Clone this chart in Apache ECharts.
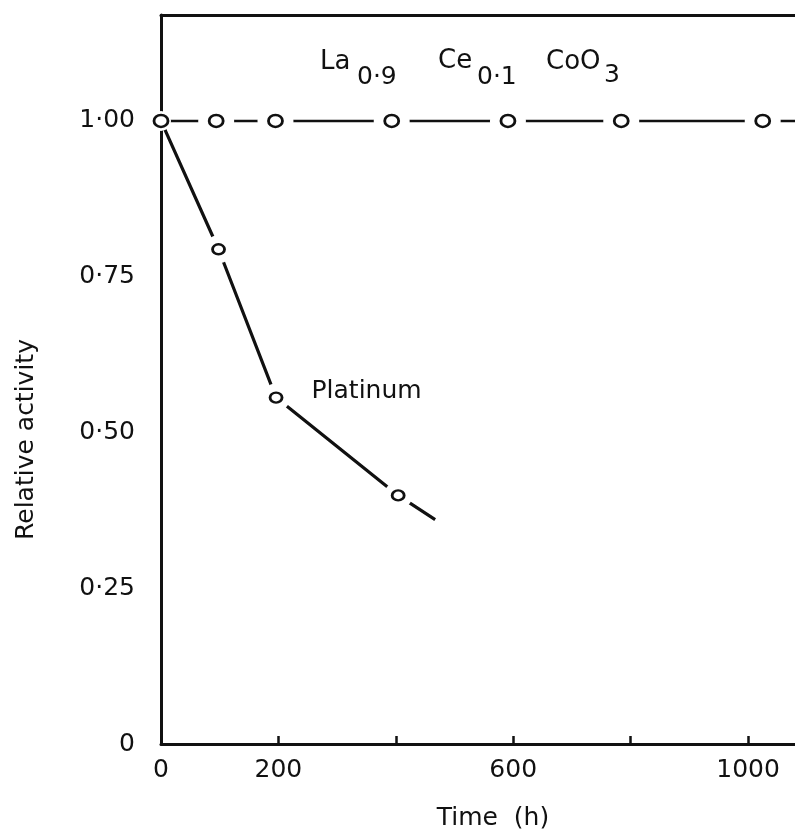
<!DOCTYPE html>
<html>
<head>
<meta charset="utf-8">
<script src="https://cdn.jsdelivr.net/npm/echarts@6/dist/echarts.min.js"></script>
<style>
  html, body { margin: 0; padding: 0; background: #ffffff; }
  #chart { width: 795px; height: 836px; }
</style>
</head>
<body>
<div id="chart"></div>
<script>
// Perovskite catalyst: sampled relative activity over time
const laTimes = [0, 94, 195, 393, 591, 784, 1025];
const laActivity = [1.0, 1.0, 1.0, 1.0, 1.0, 1.0, 1.0];
// the drawn line runs on past the last sample
const laLineEndTime = 1080;
const laLineEndActivity = 1.0;

// Platinum catalyst: sampled points, then where the drawn decay curve ends
const ptTimes = [0, 98, 196, 404];
const ptActivity = [1.0, 0.794, 0.556, 0.399];
const ptCurveEndTime = 467;
const ptCurveEndActivity = 0.36;

// Axis ticks and labels
const xTickValues = [0, 200, 400, 600, 800, 1000];
const xLabelValues = [0, 200, 600, 1000];
const yLabelValues = [0, 0.25, 0.5, 0.75, 1.0];
const yLabelText = ['0', '0·25', '0·50', '0·75', '1·00'];

const FONT = 'DejaVu Sans';
const INK = '#111111';

const laPoints = laTimes.map((t, i) => [t, laActivity[i]]);
const laLine = laPoints.concat([[laLineEndTime, laLineEndActivity]]);
const ptPoints = ptTimes.map((t, i) => [t, ptActivity[i]]);
const ptCurve = ptPoints.concat([[ptCurveEndTime, ptCurveEndActivity]]);

function yLabel(v) {
  for (let i = 0; i < yLabelValues.length; i++) {
    if (Math.abs(yLabelValues[i] - v) < 1e-6) return yLabelText[i];
  }
  return '';
}

const chart = echarts.init(document.getElementById('chart'), null, { renderer: 'canvas' });

chart.setOption({
  backgroundColor: '#ffffff',
  animation: false,
  grid: { left: 161, right: 0, top: 15, bottom: 83, containLabel: false },
  xAxis: [
    {
      type: 'value',
      min: 0, max: 1080, interval: 200,
      name: 'Time  (h)',
      nameLocation: 'middle',
      nameGap: 62,
      nameTextStyle: { fontFamily: FONT, fontSize: 25, color: INK, padding: [0, 0, 0, 30] },
      axisLine: { show: true, onZero: false, lineStyle: { color: INK, width: 3 } },
      axisTick: {
        show: true, inside: true, length: 8,
        customValues: xTickValues,
        lineStyle: { color: INK, width: 2.5 }
      },
      axisLabel: {
        margin: 14, fontFamily: FONT, fontSize: 25, color: INK,
        customValues: xLabelValues,
        formatter: v => String(v)
      },
      splitLine: { show: false }
    },
    {
      type: 'value',
      position: 'top',
      min: 0, max: 1080,
      axisLine: { show: true, onZero: false, lineStyle: { color: INK, width: 3 } },
      axisTick: { show: false },
      axisLabel: { show: false },
      splitLine: { show: false }
    }
  ],
  yAxis: {
    type: 'value',
    min: 0, max: 1.17, interval: 0.25,
    name: 'Relative activity',
    nameLocation: 'middle',
    nameGap: 122,
    nameRotate: 90,
    nameTextStyle: { fontFamily: FONT, fontSize: 25, color: INK, padding: [0, 120, 0, 0] },
    axisLine: { show: true, onZero: false, lineStyle: { color: INK, width: 3 } },
    axisTick: { show: false },
    axisLabel: {
      margin: 26, fontFamily: FONT, fontSize: 25, color: INK,
      customValues: yLabelValues,
      formatter: yLabel
    },
    splitLine: { show: false }
  },
  series: [
    {
      name: 'La0.9Ce0.1CoO3',
      type: 'line',
      data: laLine,
      showSymbol: false,
      lineStyle: { color: INK, width: 2.5 },
      z: 2
    },
    {
      name: 'Platinum',
      type: 'line',
      data: ptCurve,
      showSymbol: false,
      lineStyle: { color: INK, width: 3.2 },
      z: 2
    },
    {
      // white halos that break the lines around each plotted point
      type: 'scatter',
      data: laPoints,
      symbol: 'circle',
      symbolSize: (v, p) => (p.dataIndex === 0 ? 20 : 36),
      itemStyle: { color: '#ffffff', borderWidth: 0, opacity: 1 },
      silent: true,
      z: 3
    },
    {
      type: 'scatter',
      data: ptPoints.slice(1),
      symbol: 'circle',
      symbolSize: 28,
      itemStyle: { color: '#ffffff', borderWidth: 0, opacity: 1 },
      silent: true,
      z: 3
    },
    {
      name: 'La0.9Ce0.1CoO3 points',
      type: 'scatter',
      data: laPoints,
      symbol: 'circle',
      symbolSize: [14, 12],
      itemStyle: { color: '#ffffff', borderColor: INK, borderWidth: 2.6, opacity: 1 },
      z: 4
    },
    {
      name: 'Platinum points',
      type: 'scatter',
      data: ptPoints.slice(1),
      symbol: 'circle',
      symbolSize: [12, 10],
      itemStyle: { color: '#ffffff', borderColor: INK, borderWidth: 2.6, opacity: 1 },
      label: {
        show: true,
        position: 'right',
        distance: 28,
        offset: [0, -6],
        fontFamily: FONT,
        fontSize: 25,
        color: INK,
        formatter: p => (p.dataIndex === 1 ? 'Platinum' : '')
      },
      z: 4
    }
  ],
  graphic: [
    { type: 'text', x: 320, y: 62, style: { text: 'La', font: '26px "DejaVu Sans"', fill: INK, textVerticalAlign: 'middle' } },
    { type: 'text', x: 357, y: 77, style: { text: '0·9', font: '25px "DejaVu Sans"', fill: INK, textVerticalAlign: 'middle' } },
    { type: 'text', x: 438, y: 61, style: { text: 'Ce', font: '26px "DejaVu Sans"', fill: INK, textVerticalAlign: 'middle' } },
    { type: 'text', x: 477, y: 77, style: { text: '0·1', font: '25px "DejaVu Sans"', fill: INK, textVerticalAlign: 'middle' } },
    { type: 'text', x: 546, y: 62, style: { text: 'CoO', font: '26px "DejaVu Sans"', fill: INK, textVerticalAlign: 'middle' } },
    { type: 'text', x: 604, y: 75, style: { text: '3', font: '25px "DejaVu Sans"', fill: INK, textVerticalAlign: 'middle' } }
  ]
});
</script>
</body>
</html>
